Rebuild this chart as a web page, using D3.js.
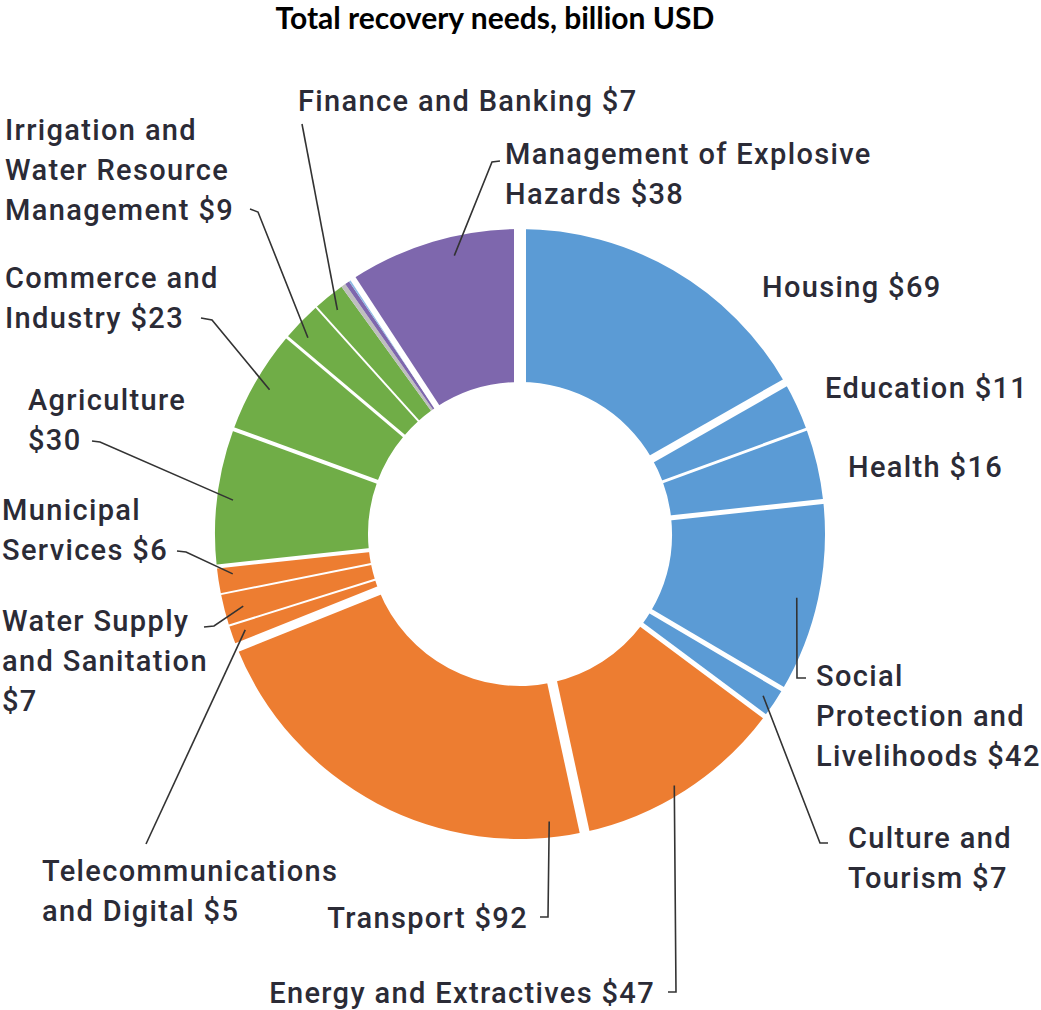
<!DOCTYPE html>
<html>
<head>
<meta charset="utf-8">
<script src="https://cdn.jsdelivr.net/npm/d3@7"></script>
<style>
  body { margin: 0; background: #fff; }
  .title { font-family: Lato, sans-serif; font-weight: 700; font-size: 30px; fill: #000; }
  .lbl { font-family: Roboto, sans-serif; font-weight: 500; font-size: 29px; fill: #2b2b36; letter-spacing: 1.35px; }
</style>
</head>
<body>
<div id="chart"></div>
<script>
// sectors, clockwise from 12 o'clock (three unlabelled slivers before Explosive Hazards)
var sectors = ["Housing", "Education", "Health", "Social Protection and Livelihoods",
  "Culture and Tourism", "Energy and Extractives", "Transport", "Telecommunications and Digital",
  "Water Supply and Sanitation", "Municipal Services", "Agriculture", "Commerce and Industry",
  "Irrigation and Water Resource Management", "Finance and Banking", "", "", "",
  "Management of Explosive Hazards"];
var values = [69, 11, 16, 42, 7, 47, 92, 5, 7, 6, 30, 23, 9, 7, 1, 1, 1, 38];
var groups = ["social", "social", "social", "social", "social", "infra", "infra", "infra",
  "infra", "infra", "prod", "prod", "prod", "prod", "other1", "other2", "other3", "cross"];

var groupColor = {
  social: "#5b9bd5", infra: "#ed7d31", prod: "#70ad47",
  other1: "#bfbfbf", other2: "#7e67ad", other3: "#8db9e4", cross: "#7e67ad"
};

// white gap drawn after each slice (px)
var gapAfter = [8, 3, 5, 5, 5, 10, 9, 2, 2, 4, 4, 3, 2, 0, 0, 0, 6, 12];

var width = 1041, height = 1010,
  cx = 520, cy = 534,
  outerR = 305, innerR = 152;

// label layout: index of slice, text lines, position, leader path (text side first)
var labels = [
  { i: 13, lines: ["Finance and Banking $7"], x: 298, y: 111, anchor: "start", path: [[302, 124]], t: 0.45, r: 289 },
  { i: 17, lines: ["Management of Explosive", "Hazards $38"], x: 505, y: 164, anchor: "start", path: [[500, 161], [492, 162]], t: 0.6, r: 286 },
  { i: 0, lines: ["Housing $69"], x: 762, y: 297, anchor: "start" },
  { i: 1, lines: ["Education $11"], x: 825, y: 398, anchor: "start" },
  { i: 2, lines: ["Health $16"], x: 848, y: 477, anchor: "start" },
  { i: 3, lines: ["Social", "Protection and", "Livelihoods $42"], x: 816, y: 686, anchor: "start", path: [[806, 678], [797, 678]], t: 0.52, r: 284 },
  { i: 4, lines: ["Culture and", "Tourism $7"], x: 848, y: 848, anchor: "start", path: [[828, 843], [820, 843]], t: 0.5, r: 292 },
  { i: 5, lines: ["Energy and Extractives $47"], x: 655, y: 1003, anchor: "end", path: [[668, 992], [676, 992]], t: 0.53, r: 295 },
  { i: 6, lines: ["Transport $92"], x: 528, y: 928, anchor: "end", path: [[540, 917], [548, 917]], t: 0.08, r: 289 },
  { i: 7, lines: ["Telecommunications", "and Digital $5"], x: 42, y: 881, anchor: "start", path: [[146, 844]], t: 0.6, r: 291 },
  { i: 8, lines: ["Water Supply", "and Sanitation", "$7"], x: 2, y: 631, anchor: "start", path: [[204, 627], [214, 626]], t: 0.47, r: 286 },
  { i: 9, lines: ["Municipal", "Services $6"], x: 2, y: 520, anchor: "start", path: [[177, 551], [186, 552]], t: 0.66, r: 290 },
  { i: 10, lines: ["Agriculture", "$30"], x: 28, y: 410, anchor: "start", path: [[92, 441], [100, 442]], t: 0.49, r: 289 },
  { i: 11, lines: ["Commerce and", "Industry $23"], x: 5, y: 288, anchor: "start", path: [[201, 318], [212, 320]], t: 0.49, r: 289 },
  { i: 12, lines: ["Irrigation and", "Water Resource", "Management $9"], x: 5, y: 140, anchor: "start", path: [[250, 209], [258, 212]], t: 0.33, r: 289 }
];

var svg = d3.select("#chart").append("svg")
  .attr("width", width)
  .attr("height", height);

svg.append("text")
  .attr("class", "title")
  .attr("x", 495)
  .attr("y", 29)
  .attr("text-anchor", "middle")
  .text("Total recovery needs, billion USD");

var pie = d3.pie().sort(null).value(function (d) { return d; });
var arcs = pie(values);

var arc = d3.arc().innerRadius(innerR).outerRadius(outerR);

var g = svg.append("g")
  .attr("transform", "translate(" + cx + "," + cy + ")");

g.selectAll("path.slice")
  .data(arcs)
  .enter().append("path")
  .attr("class", "slice")
  .attr("d", arc)
  .attr("fill", function (d, i) { return groupColor[groups[i]]; });

// white separators along slice boundaries
function polar(a, r) {
  return [Math.sin(a) * r, -Math.cos(a) * r];
}

g.selectAll("line.gap")
  .data(arcs.filter(function (d, i) { return gapAfter[i] > 0; }))
  .enter().append("line")
  .attr("class", "gap")
  .attr("x1", function (d) { return polar(d.endAngle, innerR - 4)[0]; })
  .attr("y1", function (d) { return polar(d.endAngle, innerR - 4)[1]; })
  .attr("x2", function (d) { return polar(d.endAngle, outerR + 4)[0]; })
  .attr("y2", function (d) { return polar(d.endAngle, outerR + 4)[1]; })
  .attr("stroke", "#fff")
  .attr("stroke-width", function (d) { return gapAfter[d.index]; });

// leader lines
var line = d3.line();
svg.selectAll("path.leader")
  .data(labels.filter(function (l) { return l.path; }))
  .enter().append("path")
  .attr("class", "leader")
  .attr("fill", "none")
  .attr("stroke", "#333")
  .attr("stroke-width", 1.6)
  .attr("d", function (l) {
    var s = arcs[l.i];
    var a = s.startAngle + l.t * (s.endAngle - s.startAngle);
    var p = polar(a, l.r);
    return line(l.path.concat([[cx + p[0], cy + p[1]]]));
  });

// labels
var lbl = svg.selectAll("text.lbl")
  .data(labels)
  .enter().append("text")
  .attr("class", "lbl")
  .attr("text-anchor", function (l) { return l.anchor; });

lbl.selectAll("tspan")
  .data(function (l) { return l.lines.map(function (s, k) { return { s: s, x: l.x, y: l.y + k * 40 }; }); })
  .enter().append("tspan")
  .attr("x", function (d) { return d.x; })
  .attr("y", function (d) { return d.y; })
  .text(function (d) { return d.s; });
</script>
</body>
</html>
